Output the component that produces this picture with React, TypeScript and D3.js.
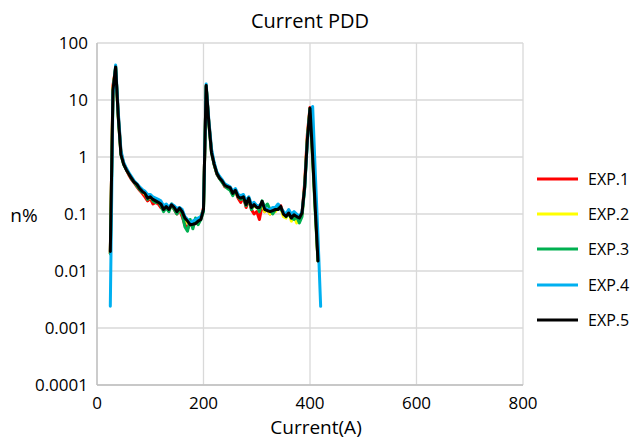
import React from "react";
import * as d3 from "d3";

const currents = [
  25, 30, 35, 40, 45, 50, 55, 60, 65, 70, 75, 80, 85, 90, 95, 100, 105, 110, 115, 120,
  125, 130, 135, 140, 145, 150, 155, 160, 165, 170, 175, 180, 185, 190, 195, 200, 205, 210, 215, 220,
  225, 230, 235, 240, 245, 250, 255, 260, 265, 270, 275, 280, 285, 290, 295, 300, 305, 310, 315, 320,
  325, 330, 335, 340, 345, 350, 355, 360, 365, 370, 375, 380, 385, 390, 395, 400, 405, 410, 415, 420,
];

const exp1 = [
  0.02, 18, 36, 5.5, 1.2, 0.78, 0.6, 0.48, 0.4, 0.35, 0.3, 0.26, 0.23, 0.2, 0.17, 0.19, 0.15, 0.16, 0.15, 0.13,
  0.12, 0.13, 0.12, 0.14, 0.12, 0.1, 0.12, 0.09, 0.065, 0.055, 0.07, 0.06, 0.075, 0.07, 0.085, 0.13, 17, 4.2, 1.3, 0.74,
  0.5, 0.42, 0.37, 0.3, 0.29, 0.27, 0.22, 0.25, 0.19, 0.16, 0.2, 0.13, 0.18, 0.12, 0.1, 0.11, 0.08, 0.14, 0.11, 0.12,
  0.1, 0.11, 0.12, 0.13, 0.14, 0.1, 0.1, 0.1, 0.09, 0.095, 0.085, 0.08, 0.1, 0.35, 2.5, 7.4, 1.2, 0.15, 0.015, null,
];
const exp2 = [
  0.02, 16, 37, 5, 1.15, 0.76, 0.62, 0.5, 0.43, 0.37, 0.32, 0.28, 0.26, 0.22, 0.2, 0.19, 0.18, 0.17, 0.16, 0.15,
  0.13, 0.14, 0.125, 0.14, 0.13, 0.11, 0.12, 0.1, 0.08, 0.07, 0.075, 0.065, 0.07, 0.07, 0.09, 0.12, 18, 4, 1.25, 0.76,
  0.53, 0.44, 0.38, 0.33, 0.3, 0.28, 0.24, 0.25, 0.2, 0.19, 0.21, 0.15, 0.18, 0.13, 0.14, 0.13, 0.12, 0.15, 0.11, 0.12,
  0.1, 0.11, 0.11, 0.13, 0.13, 0.09, 0.085, 0.11, 0.075, 0.09, 0.07, 0.085, 0.1, 0.3, 2.1, 7.0, 1.0, 0.12, 0.015, null,
];
const exp3 = [
  0.02, 14, 39, 4.8, 1.1, 0.74, 0.6, 0.51, 0.41, 0.36, 0.31, 0.27, 0.24, 0.24, 0.18, 0.21, 0.17, 0.16, 0.17, 0.14,
  0.11, 0.13, 0.11, 0.15, 0.12, 0.1, 0.125, 0.1, 0.06, 0.05, 0.08, 0.055, 0.085, 0.065, 0.08, 0.11, 17.5, 3.8, 1.2, 0.73,
  0.51, 0.42, 0.36, 0.31, 0.28, 0.26, 0.21, 0.27, 0.2, 0.18, 0.19, 0.14, 0.19, 0.12, 0.15, 0.14, 0.11, 0.17, 0.13, 0.15,
  0.12, 0.1, 0.12, 0.13, 0.12, 0.11, 0.09, 0.1, 0.085, 0.08, 0.09, 0.07, 0.09, 0.28, 2.0, 7.1, 0.9, 0.1, 0.015, null,
];
const exp4 = [
  0.0024, 12, 41, 6, 1.3, 0.8, 0.64, 0.53, 0.45, 0.38, 0.34, 0.3, 0.27, 0.25, 0.22, 0.22, 0.2, 0.19, 0.18, 0.17,
  0.14, 0.15, 0.13, 0.15, 0.14, 0.125, 0.13, 0.12, 0.09, 0.08, 0.07, 0.075, 0.08, 0.085, 0.09, 0.12, 19, 4.5, 1.4, 0.8,
  0.55, 0.46, 0.4, 0.34, 0.32, 0.3, 0.25, 0.28, 0.22, 0.21, 0.22, 0.17, 0.2, 0.15, 0.16, 0.14, 0.14, 0.16, 0.13, 0.12,
  0.12, 0.13, 0.13, 0.15, 0.13, 0.11, 0.1, 0.12, 0.1, 0.11, 0.1, 0.09, 0.11, 0.28, 1.8, 6.5, 7.7, 0.5, 0.04, 0.0024,
];
const exp5 = [
  0.022, 15, 38, 5, 1.1, 0.75, 0.6, 0.5, 0.42, 0.36, 0.33, 0.28, 0.25, 0.23, 0.19, 0.2, 0.18, 0.17, 0.16, 0.15,
  0.12, 0.135, 0.12, 0.145, 0.13, 0.11, 0.127, 0.11, 0.085, 0.075, 0.065, 0.066, 0.068, 0.075, 0.08, 0.12, 18, 4, 1.2, 0.75,
  0.52, 0.43, 0.38, 0.32, 0.3, 0.29, 0.23, 0.26, 0.2, 0.19, 0.2, 0.146, 0.19, 0.13, 0.146, 0.13, 0.13, 0.167, 0.12, 0.115,
  0.11, 0.115, 0.12, 0.12, 0.136, 0.1, 0.091, 0.104, 0.085, 0.097, 0.09, 0.085, 0.104, 0.3, 2.0, 7.2, 1.0, 0.12, 0.015, null,
];

const seriesNames = ["EXP.1", "EXP.2", "EXP.3", "EXP.4", "EXP.5"];
const seriesValues = [exp1, exp2, exp3, exp4, exp5];
const seriesColors = ["#ff0000", "#ffff00", "#00b050", "#00b0f0", "#000000"];

const xTicks = [0, 200, 400, 600, 800];
const yTicks = [0.0001, 0.001, 0.01, 0.1, 1, 10, 100];
const yTickLabels = ["0.0001", "0.001", "0.01", "0.1", "1", "10", "100"];

const W = 633;
const H = 439;
const FONT = "'Open Sans', sans-serif";

export default function App() {
  const left = 97;
  const right = 523;
  const top = 43;
  const bottom = 385;
  const x = d3.scaleLinear().domain([0, 800]).range([left, right]);
  const y = d3.scaleLog().domain([0.0001, 100]).range([bottom, top]);

  const line = d3
    .line<[number, number | null]>()
    .defined((d) => d[1] != null)
    .x((d) => x(d[0]))
    .y((d) => y(d[1] as number));

  const legendY = [179, 214, 249, 285, 320];

  return (
    <svg
      width={W}
      height={H}
      style={{ position: "absolute", left: 0, top: 0, background: "#fff" }}
      fontFamily={FONT}
    >
      <rect x={0} y={0} width={W} height={H} fill="#fff" />
      {yTicks.map((t) => (
        <line key={"hy" + t} x1={left} x2={right} y1={y(t)} y2={y(t)} stroke="#d9d9d9" strokeWidth={1.3} />
      ))}
      {xTicks.map((t) => (
        <line key={"vx" + t} x1={x(t)} x2={x(t)} y1={top} y2={bottom} stroke="#d9d9d9" strokeWidth={1.3} />
      ))}
      <line x1={left} x2={right} y1={bottom} y2={bottom} stroke="#bfbfbf" strokeWidth={1.3} />
      <line x1={left} x2={left} y1={top} y2={bottom} stroke="#bfbfbf" strokeWidth={1.3} />

      {yTicks.map((t, i) => (
        <text key={"yl" + t} x={88} y={y(t)} dy="0.35em" textAnchor="end" fontSize={17} fill="#000">
          {yTickLabels[i]}
        </text>
      ))}
      {xTicks.map((t) => (
        <text key={"xl" + t} x={x(t)} y={409} textAnchor="middle" fontSize={17} fill="#000">
          {t}
        </text>
      ))}

      {seriesValues.map((vals, si) => (
        <path
          key={seriesNames[si]}
          d={line(currents.map((c, i) => [c, vals[i]] as [number, number | null])) || ""}
          fill="none"
          stroke={seriesColors[si]}
          strokeWidth={3}
          strokeLinejoin="round"
          strokeLinecap="round"
        />
      ))}

      <text x={310} y={28} textAnchor="middle" fontSize={20} fill="#000">
        Current PDD
      </text>
      <text x={316} y={434} textAnchor="middle" fontSize={19} fill="#000">
        Current(A)
      </text>
      <text x={24} y={215} dy="0.35em" textAnchor="middle" fontSize={19} fill="#000">
        n%
      </text>

      {seriesNames.map((n, i) => (
        <g key={"lg" + n}>
          <line x1={537} x2={578} y1={legendY[i]} y2={legendY[i]} stroke={seriesColors[i]} strokeWidth={3} />
          <text x={588} y={legendY[i]} dy="0.35em" fontSize={16} fill="#000">
            {n}
          </text>
        </g>
      ))}
    </svg>
  );
}
